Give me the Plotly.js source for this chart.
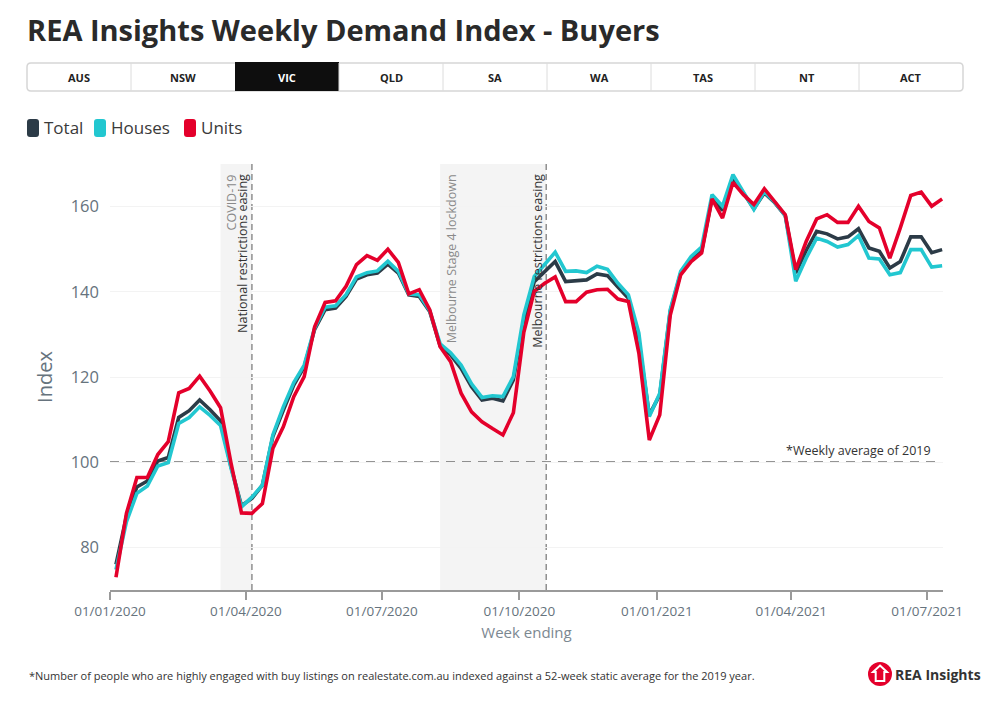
<!DOCTYPE html>
<html>
<head>
<meta charset="utf-8">
<script src="https://cdn.plot.ly/plotly-3.0.1.min.js"></script>
<style>html,body{margin:0;padding:0;background:#fff;}#chart{width:1000px;height:705px;}</style>
</head>
<body>
<div id="chart"></div>
<script>
// ---- data ----
const weeks = [
 '2020-01-05','2020-01-12','2020-01-19','2020-01-26','2020-02-02','2020-02-09','2020-02-16','2020-02-23',
 '2020-03-01','2020-03-08','2020-03-15','2020-03-22','2020-03-29','2020-04-05','2020-04-12','2020-04-19','2020-04-26',
 '2020-05-03','2020-05-10','2020-05-17','2020-05-24','2020-05-31','2020-06-07','2020-06-14','2020-06-21','2020-06-28',
 '2020-07-05','2020-07-12','2020-07-19','2020-07-26','2020-08-02','2020-08-09','2020-08-16','2020-08-23','2020-08-30',
 '2020-09-06','2020-09-13','2020-09-20','2020-09-27','2020-10-04','2020-10-11','2020-10-18','2020-10-25',
 '2020-11-01','2020-11-08','2020-11-15','2020-11-22','2020-11-29','2020-12-06','2020-12-13','2020-12-20','2020-12-27',
 '2021-01-03','2021-01-10','2021-01-17','2021-01-24','2021-01-31','2021-02-07','2021-02-14','2021-02-21','2021-02-28',
 '2021-03-07','2021-03-14','2021-03-21','2021-03-28','2021-04-04','2021-04-11','2021-04-18','2021-04-25',
 '2021-05-02','2021-05-09','2021-05-16','2021-05-23','2021-05-30','2021-06-06','2021-06-13','2021-06-20','2021-06-27',
 '2021-07-04','2021-07-11'
];
const total = [76, 87.3, 94.2, 95.6, 100.3, 101.1, 110.5, 112.1, 114.6, 112.3,
 109.7, 98.9, 89.8, 91.5, 94.6, 106, 112.2, 118.1, 122.4, 131.2,
 135.8, 136.2, 138.9, 143, 144, 144.4, 146.5, 144.4, 139.3, 138.9,
 135.4, 127.3, 125.2, 122, 117.7, 114.6, 115, 114.4, 119.3, 133.2,
 142.4, 144.8, 147.1, 142.4, 142.7, 142.8, 144.2, 143.8, 141.1, 138.5,
 128.3, 111.1, 115.8, 135.4, 144.4, 147.7, 149.5, 162, 159.1, 166.4,
 163.2, 159.5, 163.2, 160.9, 157.9, 144.4, 149.7, 154.2, 153.6, 152.4,
 152.9, 154.8, 150.3, 149.5, 145.6, 147.1, 152.9, 152.9, 149.2, 149.9];
const houses = [74.8, 86, 92.7, 94.4, 99.1, 99.9, 109.1, 110.5, 113, 111,
 108.6, 98.6, 89.5, 91.8, 94.6, 106.4, 113, 118.7, 122.8, 131.5,
 136.4, 136.7, 139.3, 143.5, 144.5, 144.9, 147.2, 144.8, 139.5, 139.3,
 135.6, 127.8, 125.7, 122.8, 118.4, 115.2, 115.6, 115.4, 120.1, 134.6,
 143.6, 146.4, 149.3, 144.8, 144.9, 144.5, 146, 145.3, 142, 139.3,
 130.3, 110.7, 116.2, 135.8, 144.8, 148.3, 150.5, 162.8, 160.1, 167.5,
 163.4, 159.3, 163.5, 161, 157.9, 142.5, 147.9, 152.6, 151.8, 150.5,
 151.1, 153.2, 147.9, 147.7, 144, 144.5, 149.9, 149.9, 145.8, 146.1];
const units = [73, 88, 96.4, 96.4, 101.8, 104.8, 116.3, 117.3, 120.2, 116.7,
 112.8, 99.8, 88.1, 88, 90.3, 103.2, 108.3, 115.4, 120.1, 131.8,
 137.5, 137.9, 141.3, 146.4, 148.5, 147.4, 150, 146.9, 139.5, 140.5,
 135.8, 127.1, 123.6, 116.2, 111.8, 109.5, 107.9, 106.4, 111.6, 130.5,
 140.1, 142, 143.5, 137.7, 137.7, 139.9, 140.5, 140.6, 138.3, 137.7,
 125.6, 105.2, 111.1, 134.5, 144, 147.1, 149.1, 161.8, 157.3, 165.7,
 162.8, 160.5, 164.2, 161, 158.1, 145.2, 151.8, 157.1, 158.1, 156.3,
 156.3, 160.1, 156.5, 155, 147.9, 155, 162.6, 163.4, 160.1, 161.8];

const seriesNames = ['Total', 'Houses', 'Units'];
const seriesColors = ['#2c3b47', '#22c7d0', '#e4002b'];
const tickDates = ['2020-01-01','2020-04-01','2020-07-01','2020-10-01','2021-01-01','2021-04-01','2021-07-01'];
const tickLabels = ['01/01/2020','01/04/2020','01/07/2020','01/10/2020','01/01/2021','01/04/2021','01/07/2021'];
const yTicks = [80, 100, 120, 140, 160];
const tabs = ['AUS','NSW','VIC','QLD','SA','WA','TAS','NT','ACT'];
const selectedTab = 'VIC';
const baseline = 100;
const periods = [
  {start: '2020-03-15', end: '2020-04-05', lines: ['COVID-19', 'National restrictions easing']},
  {start: '2020-08-09', end: '2020-10-19', lines: ['Melbourne Stage 4 lockdown']}
];
const eventLines = [
  {date: '2020-10-19', label: 'Melbourne restrictions easing'}
];

// ---- layout helpers (pixel -> paper) ----
const W = 1000, H = 705, ML = 110, MR = 57, MT = 164, MB = 115;
const PW = W - ML - MR, PH = H - MT - MB;
const px = v => (v - ML) / PW;
const py = v => (H - MB - v) / PH;
const FONT = 'Open Sans, sans-serif';

function roundRectPath(x0, y0, x1, y1, r) {
  const X = v => px(v).toFixed(5), Y = v => py(v).toFixed(5);
  return 'M' + X(x0 + r) + ',' + Y(y0) +
    ' L' + X(x1 - r) + ',' + Y(y0) +
    ' Q' + X(x1) + ',' + Y(y0) + ' ' + X(x1) + ',' + Y(y0 + r) +
    ' L' + X(x1) + ',' + Y(y1 - r) +
    ' Q' + X(x1) + ',' + Y(y1) + ' ' + X(x1 - r) + ',' + Y(y1) +
    ' L' + X(x0 + r) + ',' + Y(y1) +
    ' Q' + X(x0) + ',' + Y(y1) + ' ' + X(x0) + ',' + Y(y1 - r) +
    ' L' + X(x0) + ',' + Y(y0 + r) +
    ' Q' + X(x0) + ',' + Y(y0) + ' ' + X(x0 + r) + ',' + Y(y0) + ' Z';
}

const seriesData = [total, houses, units];
const traces = seriesNames.map((n, i) => ({
  type: 'scatter', mode: 'lines', name: n, x: weeks, y: seriesData[i],
  line: {color: seriesColors[i], width: 3.6, shape: 'linear'},
  hovertemplate: n + ': %{y:.1f}<extra></extra>'
}));

const shapes = [];
const annotations = [];

// shaded periods + event lines
periods.forEach(p => {
  shapes.push({type: 'rect', xref: 'x', yref: 'paper', x0: p.start, x1: p.end, y0: 0, y1: 1,
    fillcolor: '#f4f4f4', line: {width: 0}, layer: 'below'});
});
shapes.push({type: 'line', xref: 'x', yref: 'paper', x0: periods[0].end, x1: periods[0].end, y0: 0, y1: 1,
  line: {color: '#8f8f8f', width: 1.5, dash: '6px,4px'}, layer: 'below'});
eventLines.forEach(e => {
  shapes.push({type: 'line', xref: 'x', yref: 'paper', x0: e.date, x1: e.date, y0: 0, y1: 1,
    line: {color: '#8f8f8f', width: 1.5, dash: '6px,4px'}, layer: 'below'});
});
// baseline 100
shapes.push({type: 'line', xref: 'x', yref: 'y', x0: '2020-01-01', x1: '2021-07-08', y0: baseline, y1: baseline,
  line: {color: '#2a2a2a', width: 1.5, dash: '9px,7px'}, layer: 'below'});

// rotated labels
const topY = py(172);
annotations.push({xref: 'x', yref: 'paper', x: periods[0].end, y: topY, xanchor: 'center', yanchor: 'top',
  xshift: -20.5, textangle: -90, showarrow: false, text: periods[0].lines[0],
  font: {family: FONT, size: 12.5, color: '#8a8a8a'}});
annotations.push({xref: 'x', yref: 'paper', x: periods[0].end, y: topY, xanchor: 'center', yanchor: 'top',
  xshift: -9.5, textangle: -90, showarrow: false, text: periods[0].lines[1],
  font: {family: FONT, size: 12.5, color: '#333'}});
annotations.push({xref: 'x', yref: 'paper', x: periods[1].start, y: topY, xanchor: 'center', yanchor: 'top',
  xshift: 11.5, textangle: -90, showarrow: false, text: periods[1].lines[0],
  font: {family: FONT, size: 12.5, color: '#8a8a8a'}});
annotations.push({xref: 'x', yref: 'paper', x: eventLines[0].date, y: topY, xanchor: 'center', yanchor: 'top',
  xshift: -9.5, textangle: -90, showarrow: false, text: eventLines[0].label,
  font: {family: FONT, size: 12.5, color: '#333'}});
annotations.push({xref: 'x', yref: 'y', x: '2021-07-05', y: baseline, xanchor: 'right', yanchor: 'bottom',
  yshift: 1, showarrow: false, text: '*Weekly average of 2019',
  font: {family: FONT, size: 12.5, color: '#333'}});

// tabs
const tabX0 = 27, tabW = 104, tabY0 = 63, tabY1 = 91;
shapes.push({type: 'path', xref: 'paper', yref: 'paper',
  path: roundRectPath(tabX0, tabY0, tabX0 + tabW * tabs.length, tabY1, 4),
  fillcolor: '#ffffff', line: {color: '#d6d6d6', width: 1.5}});
tabs.forEach((t, i) => {
  const x0 = tabX0 + i * tabW;
  if (t === selectedTab) {
    shapes.push({type: 'rect', xref: 'paper', yref: 'paper', x0: px(x0), x1: px(x0 + tabW), y0: py(tabY1), y1: py(tabY0 - 1),
      fillcolor: '#0e0e0e', line: {width: 0}});
  } else if (i > 0) {
    shapes.push({type: 'line', xref: 'paper', yref: 'paper', x0: px(x0), x1: px(x0), y0: py(tabY1), y1: py(tabY0),
      line: {color: '#dcdcdc', width: 1}});
  }
  annotations.push({xref: 'paper', yref: 'paper', x: px(x0 + tabW / 2), y: py((tabY0 + tabY1) / 2),
    xanchor: 'center', yanchor: 'middle', showarrow: false, text: t,
    font: {family: FONT, size: 11, weight: 700, color: t === selectedTab ? '#ffffff' : '#222'}});
});

// custom legend
const legendItems = [{x: 27, tx: 42}, {x: 94, tx: 109}, {x: 184, tx: 199}];
seriesNames.forEach((n, i) => {
  const it = legendItems[i];
  shapes.push({type: 'path', xref: 'paper', yref: 'paper', path: roundRectPath(it.x, 119, it.x + 12, 137, 3),
    fillcolor: seriesColors[i], line: {width: 0}});
  annotations.push({xref: 'paper', yref: 'paper', x: px(it.tx), y: py(128), xanchor: 'left', yanchor: 'middle',
    showarrow: false, text: n, font: {family: FONT, size: 17, color: '#3a3a3a'}});
});

// footnote
annotations.push({xref: 'paper', yref: 'paper', x: px(27), y: py(675), xanchor: 'left', yanchor: 'middle',
  showarrow: false, text: '*Number of people who are highly engaged with buy listings on realestate.com.au indexed against a 52-week static average for the 2019 year.',
  font: {family: FONT, size: 11, color: '#333'}});

// logo
shapes.push({type: 'circle', xref: 'paper', yref: 'paper', x0: px(868), x1: px(892), y0: py(686), y1: py(662),
  fillcolor: '#e4002b', line: {width: 0}});
const hp = [[880, 665.5], [887, 672], [884.3, 672], [884.3, 681], [875.7, 681], [875.7, 672], [873, 672]];
shapes.push({type: 'path', xref: 'paper', yref: 'paper',
  path: 'M' + hp.map(p => px(p[0]).toFixed(5) + ',' + py(p[1]).toFixed(5)).join(' L') + ' Z',
  fillcolor: 'rgba(0,0,0,0)', line: {color: '#ffffff', width: 2}});
annotations.push({xref: 'paper', yref: 'paper', x: px(893), y: py(674), xanchor: 'left', yanchor: 'middle',
  showarrow: false, text: 'REA Insights', font: {family: FONT, size: 14, weight: 700, color: '#333'}});

const layout = {
  width: W, height: H,
  margin: {l: ML, r: MR, t: MT, b: MB},
  paper_bgcolor: '#ffffff', plot_bgcolor: '#ffffff',
  showlegend: false,
  font: {family: FONT, color: '#333'},
  title: {text: 'REA Insights Weekly Demand Index - Buyers', xref: 'container', yref: 'container',
    x: 0.027, xanchor: 'left', y: 1 - 31 / H, yanchor: 'middle',
    font: {family: FONT, size: 29, weight: 700, color: '#2a2a2a'}},
  xaxis: {type: 'date', range: ['2020-01-01', '2021-07-11 14:00'],
    tickvals: tickDates, ticktext: tickLabels, ticks: 'outside', ticklen: 8, tickwidth: 2, tickcolor: '#9a9a9a',
    showline: true, linecolor: '#9a9a9a', linewidth: 2, showgrid: false, zeroline: false,
    tickfont: {family: FONT, size: 13.5, color: '#66737d'},
    title: {text: 'Week ending', font: {family: FONT, size: 15, color: '#7c8891'}, standoff: 8}},
  yaxis: {range: [70, 170], tickvals: yTicks, showgrid: true, gridcolor: '#f3f3f3', gridwidth: 1,
    zeroline: false, showline: false, ticks: '', ticklabelstandoff: 10,
    tickfont: {family: FONT, size: 16.5, color: '#66737d'},
    title: {text: 'Index', font: {family: FONT, size: 20, color: '#66737d'}, standoff: 12}},
  shapes: shapes,
  annotations: annotations
};

Plotly.newPlot('chart', traces, layout, {displayModeBar: false});
</script>
</body>
</html>
